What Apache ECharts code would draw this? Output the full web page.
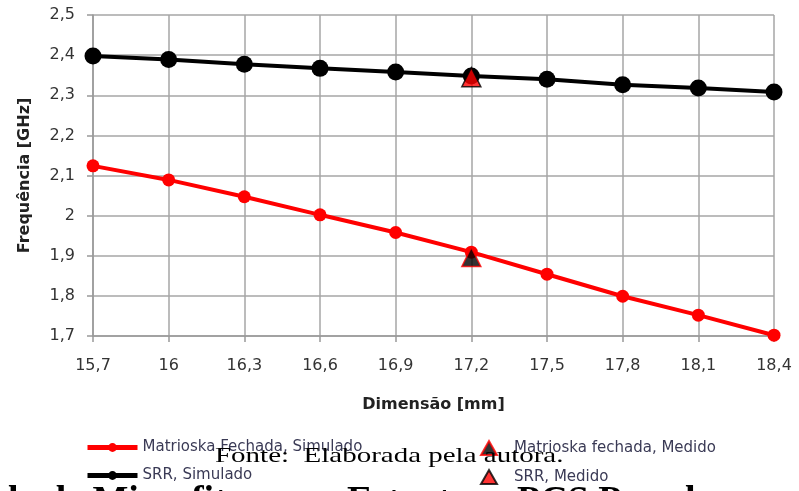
<!DOCTYPE html>
<html>
<head>
<meta charset="utf-8">
<script src="https://cdn.jsdelivr.net/npm/echarts@6/dist/echarts.min.js"></script>
<style>
  html, body { margin: 0; padding: 0; background: #fff; }
  #chart { width: 799px; height: 491px; }
</style>
</head>
<body>
<div id="chart"></div>
<script>
// dimensoes (mm)
var categorias = ['15,7', '16', '16,3', '16,6', '16,9', '17,2', '17,5', '17,8', '18,1', '18,4'];
// frequencias simuladas (GHz)
var matrioskaSimulado = [2.124, 2.089, 2.047, 2.002, 1.958, 1.909, 1.854, 1.799, 1.752, 1.702];
var srrSimulado = [2.398, 2.389, 2.377, 2.367, 2.358, 2.348, 2.340, 2.326, 2.318, 2.308];
// medidas
var medidoEm = '17,2';
var matrioskaMedido = 1.897;
var srrMedido = 2.345;

var fonte = '"DejaVu Sans", sans-serif';

var chart = echarts.init(document.getElementById('chart'));
chart.setOption({
  animation: false,
  backgroundColor: '#fff',
  grid: { left: 93, right: 25, top: 15, bottom: 155 },
  xAxis: {
    type: 'category',
    boundaryGap: false,
    data: categorias,
    name: 'Dimensão [mm]',
    nameLocation: 'middle',
    nameGap: 61,
    nameTextStyle: { fontFamily: fonte, fontSize: 16, fontWeight: 'bold', color: '#222' },
    axisLine: { lineStyle: { color: '#999', width: 1.5 } },
    axisTick: { show: true, length: 6, lineStyle: { color: '#999', width: 1.5 } },
    axisLabel: { fontFamily: fonte, fontSize: 16, color: '#333', margin: 22 },
    splitLine: { show: true, lineStyle: { color: '#a6a6a6', width: 1.5 } }
  },
  yAxis: {
    type: 'value',
    min: 1.7,
    max: 2.5,
    interval: 0.1,
    name: 'Frequência [GHz]',
    nameLocation: 'middle',
    nameGap: 60,
    nameTextStyle: { fontFamily: fonte, fontSize: 16, fontWeight: 'bold', color: '#222' },
    axisLine: { show: true, lineStyle: { color: '#999', width: 1.5 } },
    axisTick: { show: true, length: 6, lineStyle: { color: '#999', width: 1.5 } },
    axisLabel: {
      fontFamily: fonte, fontSize: 16, color: '#333', margin: 18,
      formatter: function (v) { return (Math.round(v * 10) / 10).toString().replace('.', ','); }
    },
    splitLine: { lineStyle: { color: '#a6a6a6', width: 1.5 } }
  },
  legend: [
    {
      left: 80, top: 435, orient: 'vertical', itemGap: 13, itemWidth: 50, itemHeight: 11,
      lineStyle: { width: 5 },
      textStyle: { fontFamily: fonte, fontSize: 15, color: '#3a3a55' },
      data: ['Matrioska Fechada, Simulado', 'SRR, Simulado']
    },
    {
      left: 475, top: 435, orient: 'vertical', itemGap: 13, itemWidth: 16, itemHeight: 14,
      textStyle: { fontFamily: fonte, fontSize: 15, color: '#3a3a55', padding: [0, 0, 0, 12] },
      data: ['Matrioska fechada, Medido', 'SRR, Medido']
    }
  ],
  series: [
    {
      name: 'Matrioska Fechada, Simulado',
      type: 'line',
      data: matrioskaSimulado,
      symbol: 'circle',
      symbolSize: 13,
      lineStyle: { color: '#ff0000', width: 4 },
      itemStyle: { color: '#ff0000' }
    },
    {
      name: 'SRR, Simulado',
      type: 'line',
      data: srrSimulado,
      symbol: 'circle',
      symbolSize: 17,
      lineStyle: { color: '#000', width: 4 },
      itemStyle: { color: '#000' }
    },
    {
      name: 'Matrioska fechada, Medido',
      type: 'scatter',
      data: [[medidoEm, matrioskaMedido]],
      symbol: 'triangle',
      symbolSize: 19,
      itemStyle: { color: '#000', borderColor: '#ff0000', borderWidth: 1.5 },
      z: 5
    },
    {
      name: 'SRR, Medido',
      type: 'scatter',
      data: [[medidoEm, srrMedido]],
      symbol: 'triangle',
      symbolSize: 19,
      itemStyle: { color: '#ff0000', borderColor: '#000', borderWidth: 1.5 },
      z: 5
    }
  ],
  graphic: [
    {
      type: 'text', left: 215, top: 446, z: 100, scaleX: 1.38,
      style: { text: 'Fonte:  Elaborada pela autora.', font: '21px "Liberation Serif", serif', fill: '#000' }
    },
    {
      type: 'text', left: 8, top: 483, z: 100,
      style: { text: 'le de Microfitas com Estrutura PCS Pseudo', font: 'bold 38px "Liberation Serif", serif', fill: '#000' }
    }
  ]
});
</script>
</body>
</html>
